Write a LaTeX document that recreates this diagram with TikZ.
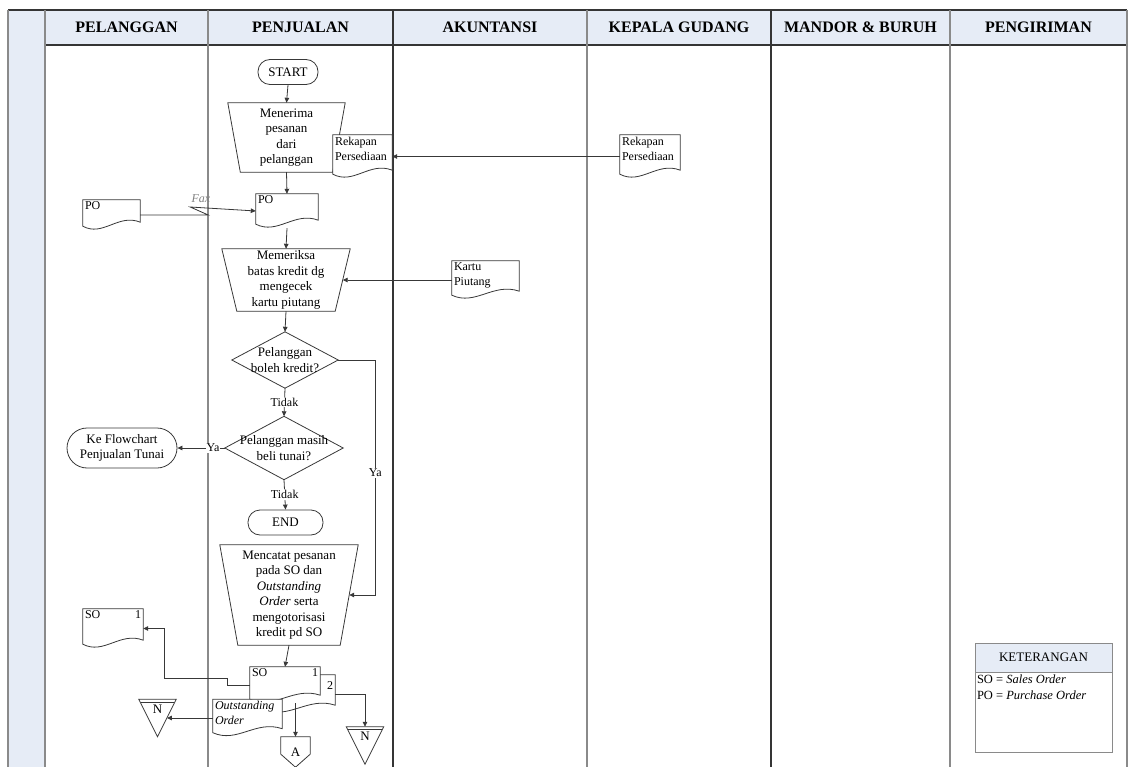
\documentclass[tikz,border=0pt]{standalone}
\usepackage{fontspec}
\setmainfont{Liberation Serif}
\usetikzlibrary{arrows.meta,calc}
\definecolor{lanefill}{HTML}{E6ECF6}
\definecolor{laneline}{HTML}{8A8A8A}
\definecolor{lanedark}{HTML}{353535}
\definecolor{ink}{HTML}{383838}
\begin{document}
\begin{tikzpicture}[x=1pt,y=-1pt]
\useasboundingbox (0,0) rectangle (1129,767);
\tikzset{flow/.style={draw=ink, line width=0.8pt}}
\tikzset{arr/.style={flow, -{Triangle[length=5pt,width=4.5pt]}}}
\tikzset{boxtext/.style={font=\fontsize{13}{15.5}\selectfont, align=center, inner sep=0pt}}
\tikzset{lbl/.style={font=\fontsize{12}{13}\selectfont, inner sep=1pt, fill=white}}
\tikzset{faxlbl/.style={font=\fontsize{12}{13}\selectfont\itshape, text=gray, anchor=south west, inner sep=1pt, yshift=3pt}}
\tikzset{doclbl/.style={font=\fontsize{12}{15}\selectfont, align=left, inner sep=2pt, anchor=north west}}
\tikzset{lanehead/.style={fill=lanefill, minimum height=35pt, inner sep=0pt, font=\fontsize{16}{18}\selectfont\bfseries}}
\tikzset{terminal/.style={boxtext, flow, rounded corners=#1}}
\tikzset{manop/.style={boxtext, append after command={\pgfextra{\draw[flow] (\tikzlastnode.north west) -- (\tikzlastnode.north east) -- ([xshift=-#1]\tikzlastnode.south east) -- ([xshift=#1]\tikzlastnode.south west) -- cycle;}}}}
\tikzset{decision/.style={boxtext, append after command={\pgfextra{\draw[flow] (\tikzlastnode.north) -- (\tikzlastnode.east) -- (\tikzlastnode.south) -- (\tikzlastnode.west) -- cycle;}}}}
\tikzset{doc/.style={inner sep=0pt, append after command={\pgfextra{\draw[flow, fill=white] (\tikzlastnode.north west) -- (\tikzlastnode.north east) -- ([yshift=8pt]\tikzlastnode.south east) .. controls ($(\tikzlastnode.south west)!0.62!(\tikzlastnode.south east)+(0,-17)$) and ($(\tikzlastnode.south west)!0.35!(\tikzlastnode.south east)+(0,7)$) .. ([yshift=4pt]\tikzlastnode.south west) -- cycle;}}}}
\tikzset{filestore/.style={inner sep=0pt, minimum width=37pt, minimum height=37pt, append after command={\pgfextra{\draw[flow, fill=white] (\tikzlastnode.north west) -- (\tikzlastnode.north east) -- (\tikzlastnode.south) -- cycle; \draw[flow] ([shift={(2,3)}]\tikzlastnode.north west) -- ([shift={(-2,3)}]\tikzlastnode.north east);}}, label={[boxtext, anchor=north, yshift=-5pt]north:N}}}
\tikzset{offpage/.style={boxtext, append after command={\pgfextra{\draw[flow] (\tikzlastnode.north west) -- (\tikzlastnode.north east) -- ([yshift=13pt]\tikzlastnode.south east) -- (\tikzlastnode.south) -- ([yshift=13pt]\tikzlastnode.south west) -- cycle;}}}}

\fill[lanefill] (8,10) rectangle (45,790);
\node[lanehead, minimum width=163pt] (hpel) at (126.5,27.5) {PELANGGAN};
\node[lanehead, minimum width=185pt] (hpjl) at (300.5,27.5) {PENJUALAN};
\node[lanehead, minimum width=194pt] (hakt) at (490,27.5) {AKUNTANSI};
\node[lanehead, minimum width=184pt] (hgdg) at (679,27.5) {KEPALA GUDANG};
\node[lanehead, minimum width=179pt] (hmdr) at (860.5,27.5) {MANDOR \& BURUH};
\node[lanehead, minimum width=177pt] (hkrm) at (1038.5,27.5) {PENGIRIMAN};
\draw[lanedark, line width=1.2pt] (8,10) -- (1127,10);
\draw[lanedark, line width=1.2pt] (45,45) -- (1127,45);
\draw[laneline, line width=1.2pt] (8,10) -- (8,790);
\draw[laneline, line width=1.2pt] (45,10) -- (45,790);
\draw[laneline, line width=1.2pt] (208,10) -- (208,790);
\draw[lanedark, line width=1.4pt] (393,10) -- (393,790);
\draw[laneline, line width=1.2pt] (587,10) -- (587,790);
\draw[lanedark, line width=1.8pt] (771,10) -- (771,790);
\draw[laneline, line width=1.2pt] (950,10) -- (950,790);
\draw[laneline, line width=1.2pt] (1127,10) -- (1127,790);

\node[terminal=12pt, minimum width=60pt, minimum height=25pt] (start) at (288,72) {START};
\node[manop=12.5, minimum width=117pt, minimum height=69pt] (terima) at (286.5,137.5) {Menerima\\pesanan\\dari\\pelanggan};
\node[doc, minimum width=59pt, minimum height=43pt, label={[doclbl]north west:{Rekapan\\Persediaan}}] (rekappjl) at (362.5,156.5) {};
\node[doc, minimum width=60pt, minimum height=43pt, label={[doclbl]north west:{Rekapan\\Persediaan}}] (rekapgdg) at (650,156.5) {};
\node[doc, minimum width=57pt, minimum height=30pt, label={[doclbl]north west:PO}] (poplg) at (111.5,215) {};
\node[doc, minimum width=62pt, minimum height=34pt, label={[doclbl]north west:PO}] (popjl) at (287,211) {};
\node[manop=15, minimum width=128pt, minimum height=62pt] (periksa) at (286,280) {Memeriksa\\batas kredit dg\\mengecek\\kartu piutang};
\node[doc, minimum width=67pt, minimum height=38pt, label={[doclbl]north west:{Kartu\\Piutang}}] (kartu) at (485.5,280) {};
\node[decision, minimum width=106pt, minimum height=56pt] (kredit) at (285,360) {Pelanggan\\boleh kredit?};
\node[decision, minimum width=118pt, minimum height=63pt] (tunai) at (284,448) {Pelanggan masih\\beli tunai?};
\node[terminal=20pt, minimum width=110pt, minimum height=40pt] (keflow) at (122,448) {Ke Flowchart\\Penjualan Tunai};
\node[terminal=12pt, minimum width=75pt, minimum height=25pt] (selesai) at (285.5,522.5) {END};
\node[manop=18, minimum width=138pt, minimum height=100pt] (catat) at (289,595) {Mencatat pesanan\\pada SO dan\\\textit{Outstanding}\\\textit{Order} serta\\mengotorisasi\\kredit pd SO};
\node[doc, minimum width=71pt, minimum height=38pt, label={[doclbl, anchor=north east, yshift=-5pt]north east:2}] (so2) at (299.5,694) {};
\node[doc, minimum width=70pt, minimum height=36pt, label={[doclbl]north west:SO}, label={[doclbl, anchor=north east]north east:1}] (so1) at (285,685) {};
\node[doc, minimum width=69pt, minimum height=37pt, label={[doclbl]north west:{\textit{Outstanding}\\\textit{Order}}}] (outst) at (247.5,718) {};
\node[doc, minimum width=60pt, minimum height=39pt, label={[doclbl]north west:SO}, label={[doclbl, anchor=north east]north east:1}] (soplg) at (113,628.5) {};
\node[filestore] (npjl) at (365,745.5) {};
\node[filestore] (nplg) at (157.5,718) {};
\node[offpage, minimum width=29pt, minimum height=30pt] (offA) at (295.5,752) {A};

\draw[arr] (start.south) -- (terima.north);
\draw[arr] (rekapgdg.west) -- (rekappjl.east);
\draw[arr] (terima.south) -- (popjl.north);
\draw[arr] (poplg.east) -- ++(68,0) -- ++(-18,-8) node[faxlbl] {Fax} -- (popjl.west);
\draw[arr] (popjl.south) -- (periksa.north);
\draw[arr] (kartu.west) -- ([xshift=-7.5]periksa.east);
\draw[arr] (periksa.south) -- (kredit.north);
\draw[arr] (kredit.south) -- (tunai.north) node[lbl, midway] {Tidak};
\draw[arr] (tunai.west) -- (keflow.east) node[lbl, pos=0.25] {Ya};
\draw[arr] (kredit.east) -- ++(37,0) |- ([xshift=-9]catat.east) node[lbl, pos=0.24] {Ya};
\draw[arr] (tunai.south) -- (selesai.north) node[lbl, midway] {Tidak};
\draw[arr] (catat.south) -- (so1.north);
\draw[arr] (so1.west) -- ++(-22,0) -- ++(0,-7) -- ++(-63,0) |- (soplg.east);
\draw[arr] (so2.east) -| (npjl.north);
\draw[arr] (so1.south -| offA.north) -- (offA.north);
\draw[arr] (outst.west) -- ([xshift=-9.25]nplg.east);

\node[draw=laneline, fill=lanefill, minimum width=137pt, minimum height=29pt, inner sep=0pt, font=\fontsize{13}{15}\selectfont] (ketjudul) at (1043.5,657.5) {KETERANGAN};
\node[draw=laneline, minimum width=137pt, minimum height=80pt, anchor=north] (ketbox) at (ketjudul.south) {};
\node[anchor=north west, align=left, inner sep=2pt, font=\fontsize{12.5}{16}\selectfont] (ketisi) at (ketbox.north west) {SO = \textit{Sales Order}\\PO = \textit{Purchase Order}};
\end{tikzpicture}
\end{document}
